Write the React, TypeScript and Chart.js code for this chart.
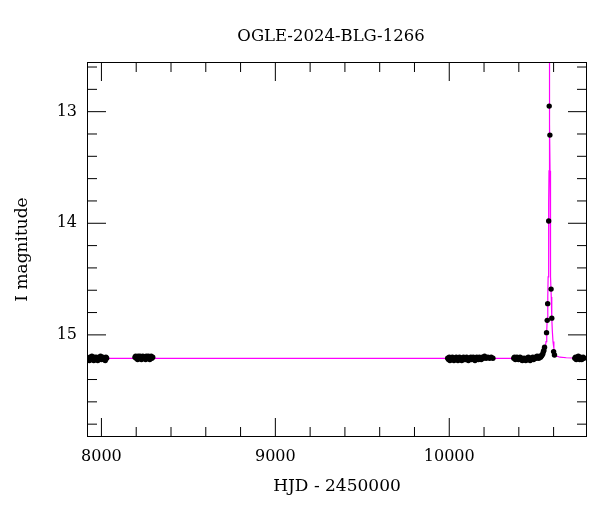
import React, { useEffect, useRef } from "react";
import { Chart, registerables } from "chart.js";

Chart.register(...registerables);

const TITLE = "OGLE-2024-BLG-1266";
const X_LABEL = "HJD - 2450000";
const Y_LABEL = "I magnitude";

const X_MIN = 7917;
const X_MAX = 10792;
const Y_MIN = 12.555;
const Y_MAX = 15.915;

const X_MAJOR = [8000, 9000, 10000];
const X_MINOR = [8200, 8400, 8600, 8800, 9200, 9400, 9600, 9800, 10200, 10400, 10600];
const Y_MAJOR = [13, 14, 15];
const Y_MINOR = [12.6, 12.8, 13.2, 13.4, 13.6, 13.8, 14.2, 14.4, 14.6, 14.8, 15.2, 15.4, 15.6, 15.8];

// Observations (HJD - 2450000, I mag)
const obsHJD = [
  // season 1
  7927, 7931, 7934, 7938, 7941, 7945, 7948, 7952, 7956, 7960, 7963, 7967, 7971, 7975,
  7979, 7983, 7987, 7991, 7995, 7999, 8003, 8008, 8012, 8017, 8022, 8026, 8030,
  // season 2
  8193, 8197, 8200, 8204, 8208, 8211, 8215, 8219, 8222, 8226, 8230, 8234, 8238, 8242,
  8246, 8250, 8254, 8258, 8262, 8266, 8270, 8274, 8278, 8282, 8286, 8290, 8295,
  // season 3
  9991, 9996, 10000, 10004, 10009, 10013, 10018, 10022, 10027, 10031, 10036, 10040, 10045,
  10050, 10054, 10059, 10063, 10068, 10072, 10077, 10082, 10086, 10091, 10095, 10100, 10105,
  10110, 10114, 10119, 10124, 10128, 10133, 10138, 10143, 10148, 10153, 10158, 10163, 10168,
  10173, 10178, 10184, 10190, 10196, 10203, 10212, 10222, 10232, 10241, 10251,
  // season 4
  10371, 10375, 10380, 10384, 10389, 10393, 10398, 10402, 10407, 10411, 10416, 10420, 10425,
  10430, 10435, 10440, 10445, 10450, 10455, 10460, 10465, 10470, 10475, 10480, 10485, 10490,
  10495, 10500, 10505, 10510, 10515, 10520, 10525, 10530, 10534, 10538, 10541, 10544,
  // event
  10548, 10559.3, 10563.3, 10565.8, 10571.8, 10574.7, 10578.7, 10585.5, 10589.5, 10600, 10605,
  // season 5
  10722, 10726, 10730, 10734, 10738, 10742, 10746, 10750, 10754, 10758, 10762, 10766, 10770, 10774,
];

const obsMag = [
  15.21, 15.23, 15.20, 15.22, 15.21, 15.19, 15.22, 15.21, 15.23, 15.20, 15.21, 15.22, 15.20, 15.21,
  15.23, 15.22, 15.20, 15.21, 15.19, 15.22, 15.21, 15.20, 15.22, 15.21, 15.23, 15.20, 15.21,
  15.20, 15.19, 15.21, 15.20, 15.22, 15.19, 15.20, 15.21, 15.19, 15.20, 15.22, 15.21, 15.19, 15.20,
  15.21, 15.20, 15.22, 15.19, 15.21, 15.20, 15.19, 15.21, 15.22, 15.20, 15.19, 15.21, 15.20,
  15.21, 15.22, 15.20, 15.23, 15.21, 15.22, 15.20, 15.21, 15.23, 15.22, 15.21, 15.20, 15.22,
  15.23, 15.21, 15.20, 15.22, 15.21, 15.23, 15.21, 15.20, 15.22, 15.21, 15.22, 15.20, 15.21,
  15.23, 15.22, 15.21, 15.20, 15.22, 15.21, 15.20, 15.22, 15.23, 15.21, 15.20, 15.21, 15.22,
  15.20, 15.21, 15.22, 15.20, 15.21, 15.19, 15.21, 15.20, 15.21, 15.20, 15.21,
  15.21, 15.20, 15.22, 15.21, 15.20, 15.21, 15.22, 15.21, 15.20, 15.22, 15.21, 15.23, 15.22,
  15.21, 15.22, 15.23, 15.21, 15.22, 15.20, 15.21, 15.23, 15.22, 15.21, 15.20, 15.22, 15.21,
  15.20, 15.21, 15.19, 15.20, 15.21, 15.19, 15.20, 15.19, 15.18, 15.17, 15.15, 15.14,
  15.11, 14.98, 14.87, 14.72, 13.98, 12.95, 13.21, 14.59, 14.85, 15.15, 15.18,
  15.21, 15.20, 15.22, 15.21, 15.20, 15.19, 15.21, 15.22, 15.20, 15.21, 15.22, 15.21, 15.20, 15.21,
];

// Model light curve (magenta)
const modelHJD = [
  7917, 10400, 10480, 10516.5, 10536.5, 10546.5, 10551.5, 10556.5, 10560.5, 10563.5, 10566.5,
  10568.5, 10570.5, 10571.5, 10572.5, 10573.5, 10574.5, 10575.5, 10576.5, 10577.5, 10578.5,
  10579.5, 10580.5, 10581.5, 10582.5, 10584.5, 10586.5, 10589.5, 10592.5, 10596.5, 10601.5,
  10606.5, 10616.5, 10636.5, 10673, 10792,
];
const modelMag = [
  15.21, 15.21, 15.205, 15.2, 15.19, 15.16, 15.12, 15.06, 14.96, 14.85, 14.66,
  14.48, 14.22, 14.05, 13.82, 13.53, 13.11, 12.43, 11.4, 12.43, 13.11,
  13.53, 13.82, 14.05, 14.22, 14.48, 14.66, 14.85, 14.96, 15.06, 15.12,
  15.16, 15.19, 15.2, 15.205, 15.21,
];

const FONT_FAMILY = '"DejaVu Serif", serif';

const framePlugin = {
  id: "frame",
  afterDatasetsDraw(chart: any) {
    const { ctx, chartArea: a, scales } = chart;
    const xs = scales.x;
    const ys = scales.y;
    ctx.save();
    ctx.strokeStyle = "#000";
    ctx.lineWidth = 1;
    ctx.beginPath();
    const seg = (x1: number, y1: number, x2: number, y2: number) => {
      ctx.moveTo(x1, y1);
      ctx.lineTo(x2, y2);
    };
    const xt = (vals: number[], len: number) =>
      vals.forEach((v) => {
        const p = xs.getPixelForValue(v);
        seg(p, a.bottom, p, a.bottom - len);
        seg(p, a.top, p, a.top + len);
      });
    const yt = (vals: number[], len: number) =>
      vals.forEach((v) => {
        const p = ys.getPixelForValue(v);
        seg(a.left, p, a.left + len, p);
        seg(a.right, p, a.right - len, p);
      });
    xt(X_MAJOR, 19);
    xt(X_MINOR, 10);
    yt(Y_MAJOR, 19);
    yt(Y_MINOR, 10);
    ctx.stroke();
    ctx.strokeRect(a.left + 0.5, a.top + 0.5, a.right - a.left - 1, a.bottom - a.top - 1);
    ctx.restore();
  },
  afterDraw(chart: any) {
    const { ctx, chartArea: a } = chart;
    ctx.save();
    ctx.fillStyle = "#000";
    ctx.font = `16.5px ${FONT_FAMILY}`;
    ctx.textAlign = "center";
    ctx.textBaseline = "alphabetic";
    ctx.fillText(TITLE, (a.left + a.right) / 2 - 6, 41);
    ctx.restore();
  },
};

export default function App() {
  const canvasRef = useRef<HTMLCanvasElement | null>(null);

  useEffect(() => {
    const canvas = canvasRef.current;
    if (!canvas) return;
    const obs = obsHJD.map((x, i) => ({ x, y: obsMag[i] }));
    const model = modelHJD.map((x, i) => ({ x, y: modelMag[i] }));
    const tickFont = { family: FONT_FAMILY, size: 16 };
    const titleFont = { family: FONT_FAMILY, size: 17 };

    const chart = new Chart(canvas, {
      type: "scatter",
      data: {
        datasets: [
          {
            label: "OGLE data",
            data: obs,
            pointRadius: 2.7,
            pointBackgroundColor: "#000",
            pointBorderColor: "#000",
            pointBorderWidth: 0,
            showLine: false,
            order: 0,
          },
          {
            label: "model",
            type: "line",
            data: model,
            borderColor: "#ff00ff",
            borderWidth: 1.2,
            pointRadius: 0,
            showLine: true,
            tension: 0,
            fill: false,
            order: 1,
          } as any,
        ],
      },
      options: {
        animation: false,
        responsive: false,
        devicePixelRatio: 1,
        layout: { padding: { top: 62, right: 13, left: 0, bottom: 0 } },
        plugins: {
          legend: { display: false },
          tooltip: { enabled: false },
          title: { display: false },
        },
        scales: {
          x: {
            type: "linear",
            min: X_MIN,
            max: X_MAX,
            grid: { display: false, drawTicks: false },
            border: { display: false },
            ticks: {
              font: tickFont,
              color: "#000",
              padding: 10,
              autoSkip: false,
              maxRotation: 0,
              callback: (v: any) => String(v),
            },
            afterBuildTicks: (s: any) => {
              s.ticks = X_MAJOR.map((v) => ({ value: v }));
            },
            afterFit: (s: any) => {
              s.height = 75;
            },
            title: {
              display: true,
              text: X_LABEL,
              font: titleFont,
              color: "#000",
              padding: { top: 0, bottom: 15 },
            },
          },
          y: {
            type: "linear",
            reverse: true,
            min: Y_MIN,
            max: Y_MAX,
            grid: { display: false, drawTicks: false },
            border: { display: false },
            ticks: {
              font: tickFont,
              color: "#000",
              padding: 10,
              autoSkip: false,
              callback: (v: any) => String(v),
            },
            afterBuildTicks: (s: any) => {
              s.ticks = Y_MAJOR.map((v) => ({ value: v }));
            },
            afterFit: (s: any) => {
              s.width = 87;
            },
            title: {
              display: true,
              text: Y_LABEL,
              font: titleFont,
              color: "#000",
              padding: { top: 12, bottom: 0 },
            },
          },
        },
      },
      plugins: [framePlugin],
    });
    return () => chart.destroy();
  }, []);

  return (
    <div style={{ position: "fixed", left: 0, top: 0, width: 600, height: 512, background: "#fff" }}>
      <canvas ref={canvasRef} width={600} height={512} style={{ display: "block", width: 600, height: 512 }} />
    </div>
  );
}
